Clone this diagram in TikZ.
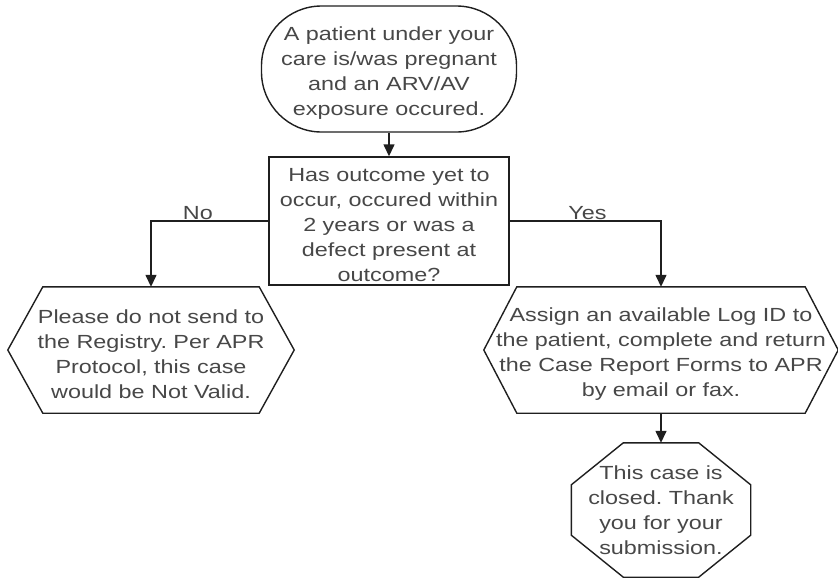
\documentclass[tikz,border=0pt]{standalone}
\usepackage{fontspec}
\setmainfont{Liberation Sans}[FakeStretch=1.23]
\usetikzlibrary{arrows.meta,calc}
\frenchspacing
\begin{document}
\begin{tikzpicture}[x=1pt,y=-1pt,
 line/.style={draw=black!88, line width=1.4pt},
 txt/.style={text=black!72, font=\fontsize{19}{25}\selectfont\frenchspacing, align=center, inner sep=0pt},
 inside/.style={label={[txt, yshift=-4pt]center:#1}},
 arr/.style={line, -{Triangle[length=12pt,width=11pt]}},
 lbl/.style={text=black!72, font=\fontsize{19}{25}\selectfont, inner sep=0pt}]
\useasboundingbox (0,0) rectangle (838,579);
\node[line, rounded corners=60pt, minimum width=255pt, minimum height=126pt,
 inside={A patient under your\\care is/was pregnant\\and an ARV/AV\\exposure occured.}] (start) at (389,69) {};
\node[line, minimum width=240pt, minimum height=128pt,
 inside={Has outcome yet to\\occur, occured within\\2 years or was a\\defect present at\\outcome?}] (dec) at (389,221) {};
\node[minimum width=286pt, minimum height=126pt,
 inside={Please do not send to\\the Registry. Per APR\\Protocol, this case\\would be Not Valid.}] (L) at (151,350) {};
\node[minimum width=354pt, minimum height=126pt,
 inside={Assign an available Log ID to\\the patient, complete and return\\the Case Report Forms to APR\\by email or fax.}] (R) at (661,350) {};
\node[txt, minimum width=179pt, minimum height=134pt] (O) at (661,510)
 {This case is\\closed. Thank\\you for your\\submission.};
\draw[line] ($(L.north west)+(35,0)$) -- ($(L.north east)+(-35,0)$) -- (L.east) -- ($(L.south east)+(-35,0)$) -- ($(L.south west)+(35,0)$) -- (L.west) -- cycle;
\draw[line] ($(R.north west)+(33,0)$) -- ($(R.north east)+(-33,0)$) -- (R.east) -- ($(R.south east)+(-33,0)$) -- ($(R.south west)+(33,0)$) -- (R.west) -- cycle;
\draw[line] ($(O.north west)+(52,0)$) -- ($(O.north east)+(-52,0)$) -- ($(O.north east)+(0,42)$) -- ($(O.south east)+(0,-42)$) -- ($(O.south east)+(-52,0)$) -- ($(O.south west)+(52,0)$) -- ($(O.south west)+(0,-42)$) -- ($(O.north west)+(0,42)$) -- cycle;
\draw[arr] (start) -- (dec);
\draw[arr] (dec.west) -| node[lbl, pos=0.3, above=1pt] (no) {No} (L.north);
\draw[arr] (dec.east) -| node[lbl, pos=0.257, above=1pt] (yes) {Yes} (R.north);
\draw[arr] (R) -- (O);
\end{tikzpicture}
\end{document}
